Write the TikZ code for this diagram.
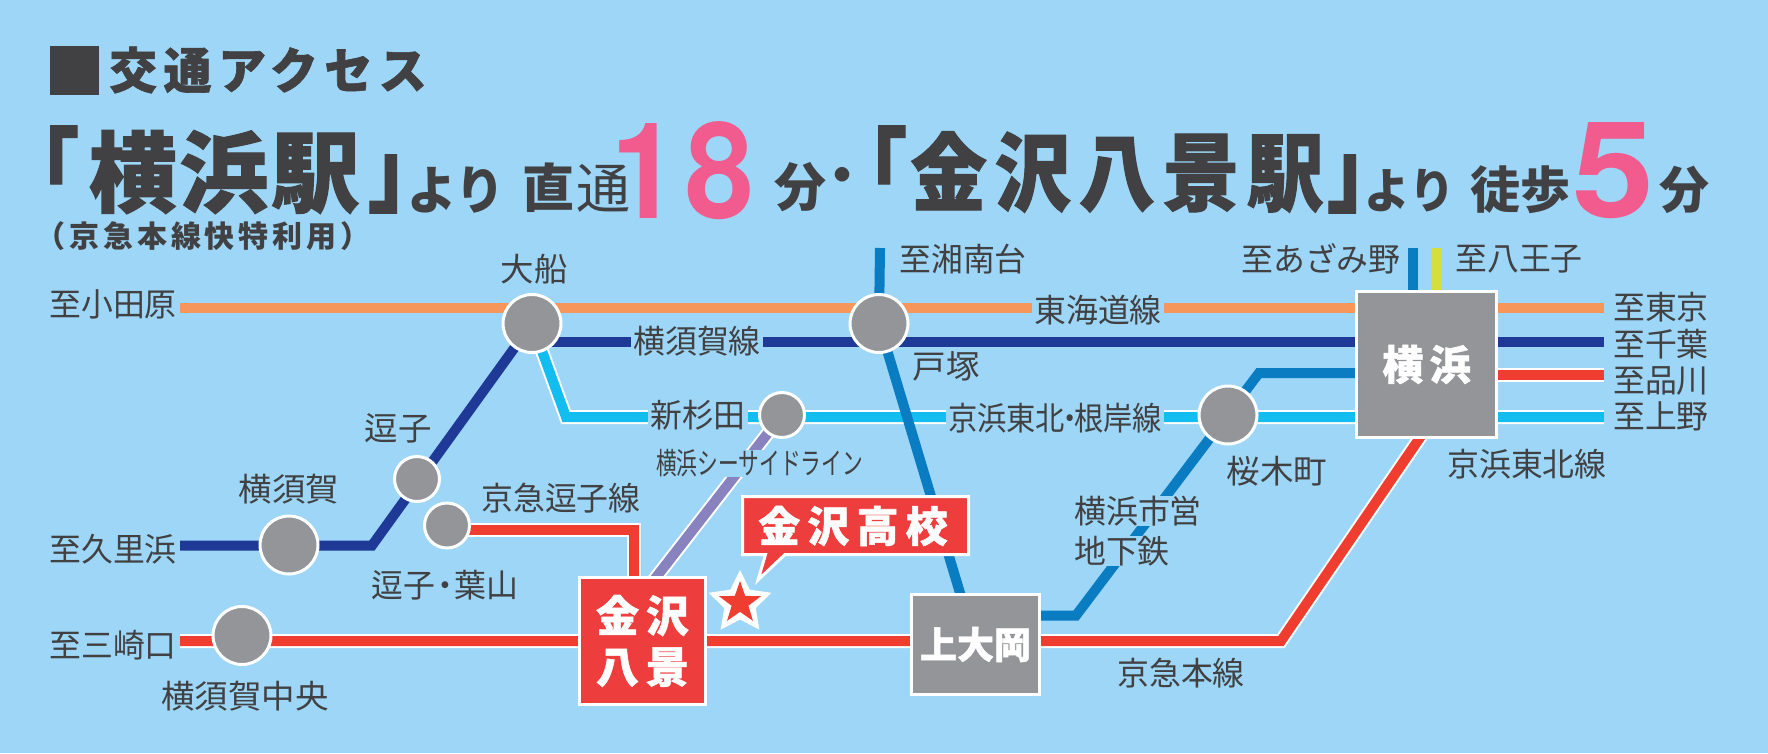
\documentclass[tikz,border=0pt]{standalone}
\usepackage{fontspec}
\usetikzlibrary{shapes.geometric}
\newfontfamily\jpf{Noto Sans CJK JP}
\newfontfamily\nsf{TeX Gyre Heros}
\definecolor{bgc}{HTML}{9DD6F6}
\definecolor{inkc}{HTML}{414042}
\definecolor{stgray}{HTML}{939598}
\definecolor{rline}{HTML}{EF3E30}
\definecolor{rbox}{HTML}{EE3D3D}
\definecolor{pinkn}{HTML}{F15B8E}
\definecolor{orangel}{HTML}{F6965A}
\definecolor{navyl}{HTML}{1E3A96}
\definecolor{cyanl}{HTML}{13BDF0}
\definecolor{bluel}{HTML}{0A7CC1}
\definecolor{yell}{HTML}{D5DE3B}
\definecolor{purl}{HTML}{8882BE}
% size, stretch, letterspace
\newcommand\hvyf[3]{\jpf\bfseries\fontsize{#1}{#1}\selectfont\addfontfeature{FakeStretch=#2,LetterSpace=#3,FakeBold=1.2}}
\newcommand\semf[3]{\jpf\bfseries\fontsize{#1}{#1}\selectfont\addfontfeature{FakeStretch=#2,LetterSpace=#3}}
\newcommand\thnf[3]{\jpf\fontsize{#1}{#1}\selectfont\addfontfeature{FakeStretch=#2,LetterSpace=#3}}
\newcommand\numf[1]{\nsf\bfseries\fontsize{134}{134}\selectfont\addfontfeature{FakeStretch=#1}}
\pgfdeclarelayer{bglayer}
\pgfdeclarelayer{lines}
\pgfsetlayers{bglayer,lines,main}
\tikzset{
  lab/.style={inner sep=0pt,text=inkc,font=\thnf{32.5}{0.98}{0}},
  labw/.style={lab,font=\thnf{32.5}{1.03}{0}},
  labf/.style={lab,fill=bgc,inner xsep=2pt,inner ysep=0pt},
  ttl/.style={inner sep=0pt,text=inkc},
  num/.style={inner sep=0pt,text=pinkn},
  bigst/.style={circle,draw=white,line width=3pt,fill=stgray,inner sep=0pt,minimum size=58pt},
  smallst/.style={circle,draw=white,line width=3pt,fill=stgray,inner sep=0pt,minimum size=45pt},
  boxst/.style={rectangle,draw=white,line width=3pt,inner sep=0pt,text=white,align=center},
  railb/.style={line width=10pt,line join=miter},
  railw/.style={draw=white,line width=2pt,double distance=10pt,line join=miter},
}
\begin{document}
\begin{tikzpicture}[x=1pt,y=-1pt]
\useasboundingbox (0,0) rectangle (1768,753);
\begin{pgfonlayer}{bglayer}
\fill[bgc] (0,0) rectangle (1768,753);
\end{pgfonlayer}

% title
\node[ttl,font=\hvyf{60}{1}{0}] (sq) at (74.5,70.5) {■};
\node[ttl,font=\hvyf{49}{0.98}{13}] (head) at (268,70) {交通アクセス};
\node[ttl,font=\hvyf{92}{0.85}{0}] (q1) at (40,165) {「};
\node[ttl,font=\hvyf{88}{1}{4}] (t1) at (224,172) {横浜駅};
\node[ttl,font=\hvyf{92}{0.85}{0}] (q2) at (407,184) {」};
\node[ttl,font=\semf{52}{0.95}{0}] (yr1) at (456,190) {より};
\node[ttl,font=\semf{52}{1}{0}] (ch) at (548,188) {直};
\node[ttl,font=\thnf{54}{1}{0}] (ts) at (603,188) {通};
\node[num,font=\numf{0.9}] (n1) at (645,171) {1};
\node[num,font=\numf{0.92}] (n8) at (720,171) {8};
\node[ttl,font=\semf{52}{1}{0}] (fn1) at (800,187) {分};
\node[ttl,font=\semf{52}{1}{0}] (dot) at (842,181) {・};
\node[ttl,font=\hvyf{92}{0.85}{0}] (q3) at (868,165) {「};
\node[ttl,font=\hvyf{85}{0.9}{9}] (t2) at (1117,172) {金沢八景駅};
\node[ttl,font=\hvyf{92}{0.85}{0}] (q4) at (1366,184) {」};
\node[ttl,font=\semf{48}{0.95}{0}] (yr2) at (1410,191) {より};
\node[ttl,font=\semf{50}{1}{0}] (th) at (1520,190) {徒歩};
\node[num,font=\numf{1.1}] (n5) at (1613,171) {5};
\node[ttl,font=\semf{50}{1}{0}] (fn2) at (1684,190) {分};
\node[ttl,font=\semf{30}{1}{13}] (sub) at (203,236) {（京急本線快特利用）};

% stations
\node[bigst] (ofuna) at (532,323.5) {};
\node[bigst] (totsuka) at (879,323.5) {};
\node[bigst] (sakuragi) at (1228,415) {};
\node[bigst] (yokosuka) at (289,545) {};
\node[bigst] (chuo) at (242,635.5) {};
\node[smallst] (shinsugi) at (782,415) {};
\node[smallst] (zushi) at (417,479) {};
\node[smallst] (hayama) at (447,525.5) {};
\node[boxst,fill=stgray,minimum width=140pt,minimum height=146pt,font=\hvyf{41}{1}{16}] (yoko) at (1426.5,364.5) {\raisebox{3pt}{横浜}};
\node[boxst,fill=stgray,minimum width=128pt,minimum height=100pt,font=\hvyf{37}{1}{0}] (kami) at (975.5,644.5) {上大岡};
\node[boxst,fill=rbox,minimum width=126pt,minimum height=127pt,font=\hvyf{43}{1}{16}] (kana) at (642.5,641) {金沢\\[8pt]八景};

% free ends and bends
\coordinate (oW) at (180,307.5);
\coordinate (oE) at (1604,307.5);
\coordinate (nE) at (1604,342);
\coordinate (rE) at (1604,375);
\coordinate (cE) at (1604,417);
\coordinate (cB) at (566,417);
\coordinate (nW) at (180,545.5);
\coordinate (nB) at (372,545.5);
\coordinate (mW) at (180,641);
\coordinate (mB) at (1281,641);
\coordinate (mT) at (1432,420);
\coordinate (pE) at (640,598);
\coordinate (zB) at (634,530);
\coordinate (sN) at (880,248);
\coordinate (aN) at (1413,248);
\coordinate (hN) at (1436.5,248);
\coordinate (sB1) at (1076,615.5);
\coordinate (sB2) at (1259,373);
\coordinate (nM) at (532,342);

\begin{pgfonlayer}{lines}
\draw[railb,orangel] (oW) -- (oE);
\draw[railb,navyl] (nM) -- (nE);
\draw[railw,double=rline] (yoko.center |- rE) -- (rE);
\draw[railw,double=cyanl] (ofuna.center) -- (cB) -- (cE);
\draw[railb,navyl] (nW) -- (nB) -- (ofuna.center);
\draw[railw,double=purl] (shinsugi.center) -- (pE);
\draw[railw,double=rline] (hayama.center |- zB) -- (zB) -- (zB |- kana.center);
\draw[railw,double=rline] (mW) -- (mB) -- (mT);
\draw[railb,bluel] (sN) -- (totsuka.center);
\draw[railb,bluel] (totsuka.center) -- (kami.center);
\draw[railb,bluel] (aN) -- (aN |- yoko.center);
\draw[railb,yell] (hN) -- (hN |- yoko.center);
\draw[railb,bluel] (kami.center |- sB1) -- (sB1) -- (sB2) -- (yoko.center |- sB2);
\end{pgfonlayer}

% labels
\node[lab] (l1) at (113,304) {至小田原};
\node[labw] (l2) at (534,269) {大船};
\node[labf] (l3) at (697,341) {横須賀線};
\node[labf] (l4) at (1098,310) {東海道線};
\node[lab] (l5) at (963,259) {至湘南台};
\node[lab] (l6) at (1321,259) {至あざみ野};
\node[lab] (l7) at (1519,259) {至八王子};
\node[lab] (l8) at (1661,307) {至東京};
\node[lab] (l9) at (1661,344) {至千葉};
\node[lab] (l10) at (1661,380.5) {至品川};
\node[lab] (l11) at (1661,416) {至上野};
\node[labw] (l12) at (946,366) {戸塚};
\node[labf,font=\thnf{32.5}{0.9}{0}] (l13) at (1055,418) {京浜東北\kern-10pt・\kern-10pt根岸線};
\node[labw] (l14) at (1277,471) {桜木町};
\node[lab] (l15) at (1527,464) {京浜東北線};
\node[labf] (l16) at (698,415) {新杉田};
\node[labw] (l17) at (398,428.5) {逗子};
\node[labw] (l18) at (289,489) {横須賀};
\node[lab] (l19) at (561,498) {京急逗子線};
\node[lab] (l20) at (113,549) {至久里浜};
\node[lab] (l21) at (445,585) {逗子\kern-6pt・\kern-6pt葉山};
\node[lab] (l22) at (113,645) {至三崎口};
\node[labw] (l23) at (245,696) {横須賀中央};
\node[lab] (l24) at (1181,673.5) {京急本線};
\node[labf] (l25) at (1138,511) {横浜市営};
\node[labf] (l26) at (1122,551) {地下鉄};
\node[labf,font=\thnf{30}{0.69}{0}] (l27) at (759.5,463.5) {横浜シーサイドライン};

% school callout and star
\draw[fill=rbox,draw=white,line width=3pt,miter limit=10] (742.5,496.5) -- (968.5,496.5) -- (968.5,554.5) -- (785,554.5) -- (758,580) -- (765.5,554.5) -- (742.5,554.5) -- cycle;
\node[inner sep=0pt,text=white,font=\hvyf{42}{1}{17}] (school) at (853,526) {金沢高校};
\node[star,star points=5,star point ratio=2.0,fill=white,minimum size=66pt,inner sep=0pt] (starw) at (740,603) {};
\node[star,star points=5,star point ratio=2.5,fill=rline,minimum size=44pt,inner sep=0pt] (starr) at (740,603) {};
\end{tikzpicture}
\end{document}
